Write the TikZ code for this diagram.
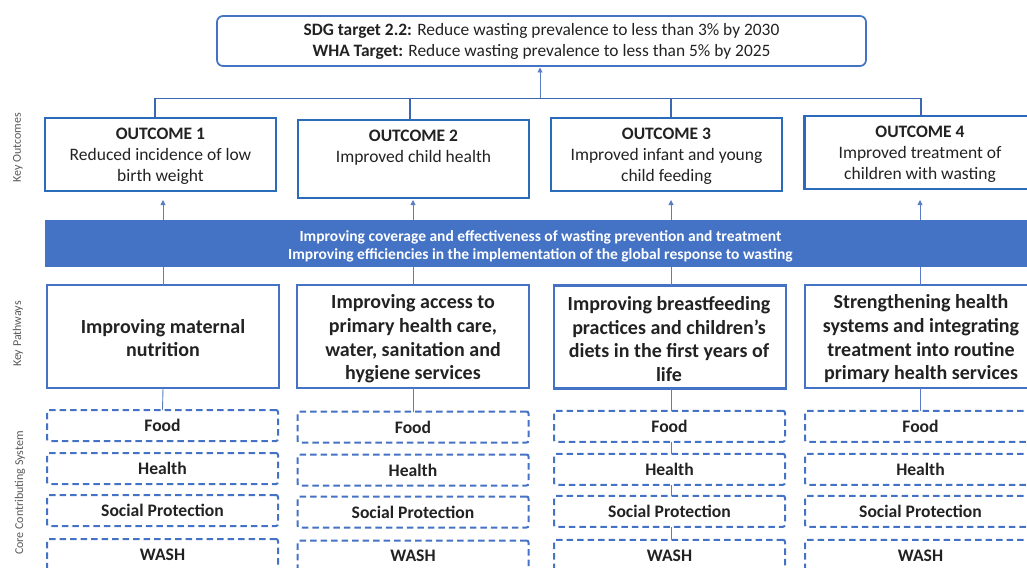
\documentclass[tikz,border=0pt]{standalone}
\usepackage{fontspec}
\setmainfont{Carlito}
\usetikzlibrary{arrows.meta}
\definecolor{mblue}{HTML}{4472C4}
\definecolor{dblue}{HTML}{2A6BBA}
\definecolor{lineblue}{HTML}{5B7DC2}
\definecolor{inkgray}{HTML}{222222}
\begin{document}
\begin{tikzpicture}[x=1pt,y=-1pt,
  every node/.style={inner sep=0pt, outer sep=0pt, text=inkgray},
  goalbox/.style={draw=mblue, line width=1.7pt, rounded corners=6pt,
    minimum width=649pt, minimum height=50pt, align=center,
    font=\fontsize{17.4}{21}\selectfont},
  outbox/.style={draw=dblue, line width=2.3pt, minimum width=231pt},
  outtext/.style={anchor=north, align=center, font=\fontsize{17.5}{21}\selectfont},
  pathbox/.style={draw=mblue, line width=2.2pt, minimum width=232pt,
    minimum height=103pt},
  pathtext/.style={align=center, font=\fontsize{20}{23.7}\selectfont\bfseries},
  sysbox/.style={draw=mblue, line width=2pt, dash pattern=on 6.5pt off 4pt,
    rounded corners=2pt, minimum width=231pt, minimum height=31pt,
    font=\fontsize{17.6}{19}\selectfont\bfseries},
  band/.style={fill=mblue, minimum width=985pt, minimum height=47pt},
  bandtext/.style={align=center, text=white, font=\fontsize{15.5}{18}\selectfont\bfseries},
  link/.style={draw=lineblue, line width=0.9pt},
  bracket/.style={draw=mblue!90!black, line width=1.8pt},
  up/.style={link, -{Triangle[width=5pt,length=5pt]}},
  sidelabel/.style={rotate=90, text=black!65, font=\fontsize{12}{13}\selectfont}
]
\useasboundingbox (0,0) rectangle (1027,567);
\clip (0,0) rectangle (1027,567);

% global targets
\node[goalbox] (goal) at (541.5,41)
  {\textbf{SDG target 2.2:} Reduce wasting prevalence to less than 3\% by 2030\\
   \textbf{WHA Target:} Reduce wasting prevalence to less than 5\% by 2025};

% side captions
\node[sidelabel] (lo) at (18,148) {Key Outcomes};
\node[sidelabel] (lp) at (18,334) {Key Pathways};
\node[sidelabel] (lc) at (20,493) {Core Contributing System};

% outcomes
\node[outbox, minimum height=73pt] (o1) at (160.5,154.5) {};
\node[outbox, minimum height=78pt] (o2) at (413.5,159) {};
\node[outbox, minimum height=73pt] (o3) at (666.5,154.5) {};
\node[outbox, minimum height=73pt] (o4) at (920,152.5) {};
\node[outtext] (t1) at ([yshift=-10.5pt]o1.north) {\textbf{OUTCOME 1}\\Reduced incidence of low\\birth weight};
\node[outtext] (t2) at ([yshift=-10.5pt]o2.north) {\textbf{OUTCOME 2}\\Improved child health};
\node[outtext] (t3) at ([yshift=-10.5pt]o3.north) {\textbf{OUTCOME 3}\\Improved infant and young\\child feeding};
\node[outtext] (t4) at ([yshift=-10.5pt]o4.north) {\textbf{OUTCOME 4}\\Improved treatment of\\children with wasting};

% bracket joining the outcomes to the targets
\coordinate (bar) at (540,98.5);
\draw[bracket] ([xshift=-5.5pt]o1.north) |- (bar) -| ([xshift=1pt]o4.north);
\draw[bracket] ([xshift=-3.5pt]o2.north) -- ([xshift=-3.5pt]o2.north |- bar);
\draw[bracket] ([xshift=4.5pt]o3.north) -- ([xshift=4.5pt]o3.north |- bar);
\draw[up, shorten >=1.5pt] (bar) -- (bar |- goal.south);

% cross-cutting band
\node[band] (band) at (537.5,243.5) {};
\node[bandtext] (bt) at ([xshift=3pt,yshift=-2.5pt]band.center)
  {Improving coverage and effectiveness of wasting prevention and treatment\\
   Improving efficiencies in the implementation of the global response to wasting};

% pathways
\node[pathbox] (p1) at (163,336.5) {};
\node[pathbox] (p2) at (413,336.5) {};
\node[pathbox] (p3) at (670,337) {};
\node[pathbox] (p4) at (921,336.5) {};
\node[pathtext] (q1) at ([yshift=-1.5pt]p1.center) {Improving maternal\\nutrition};
\node[pathtext] (q2) at ([yshift=-2.5pt]p2.center) {Improving access to\\primary health care,\\water, sanitation and\\hygiene services};
\node[pathtext] (q3) at ([xshift=-1pt,yshift=-2pt]p3.center) {Improving breastfeeding\\practices and children’s\\diets in the first years of\\life};
\node[pathtext] (q4) at ([yshift=-2.5pt]p4.center) {Strengthening health\\systems and integrating\\treatment into routine\\primary health services};

% arrows from the band up to the outcomes
\draw[up, shorten >=9pt] (p1.north |- band.north) -- (p1.north |- o1.south);
\draw[up, shorten >=2pt] (p2.north |- band.north) -- (p2.north |- o2.south);
\draw[up, shorten >=9pt] ([xshift=1pt]p3.north |- band.north) -- ([xshift=1pt]p3.north |- o3.south);
\draw[up, shorten >=11pt] ([xshift=-1pt]p4.north |- band.north) -- ([xshift=-1pt]p4.north |- o4.south);

% band down to pathways
\draw[link] (p1.north |- band.south) -- (p1.north);
\draw[link] (p2.north |- band.south) -- (p2.north);
\draw[link] ([xshift=1pt]p3.north |- band.south) -- ([xshift=1pt]p3.north);
\draw[link] ([xshift=-1pt]p4.north |- band.south) -- ([xshift=-1pt]p4.north);

% core contributing systems
\foreach \c/\x/\dy in {1/162.5/0, 2/413/1.5, 3/669.5/0.8, 4/920.5/0.8} {
  \node[sysbox] (f\c) at (\x,425.5+\dy) {Food};
  \node[sysbox] (h\c) at (\x,468.5+\dy) {Health};
  \node[sysbox] (s\c) at (\x,510.5+\dy) {Social Protection};
  \node[sysbox] (w\c) at (\x,554.5+\dy) {WASH};
}

% pathways down to the systems
\draw[link] (p1.south) -- (f1.north);
\draw[link] (p2.south) -- (f2.north);
\draw[link] ([xshift=1pt]p3.south) -- ([xshift=1.5pt]f3.north);
\draw[link] ([xshift=-1pt]p4.south) -- ([xshift=-0.5pt]f4.north);

% links within the third column
\draw[link] ([xshift=1.5pt]f3.south) -- ([xshift=1.5pt]h3.north);
\draw[link] ([xshift=1.5pt]h3.south) -- ([xshift=1.5pt]s3.north);
\draw[link] ([xshift=1.5pt]s3.south) -- ([xshift=1.5pt]w3.north);
\end{tikzpicture}
\end{document}
